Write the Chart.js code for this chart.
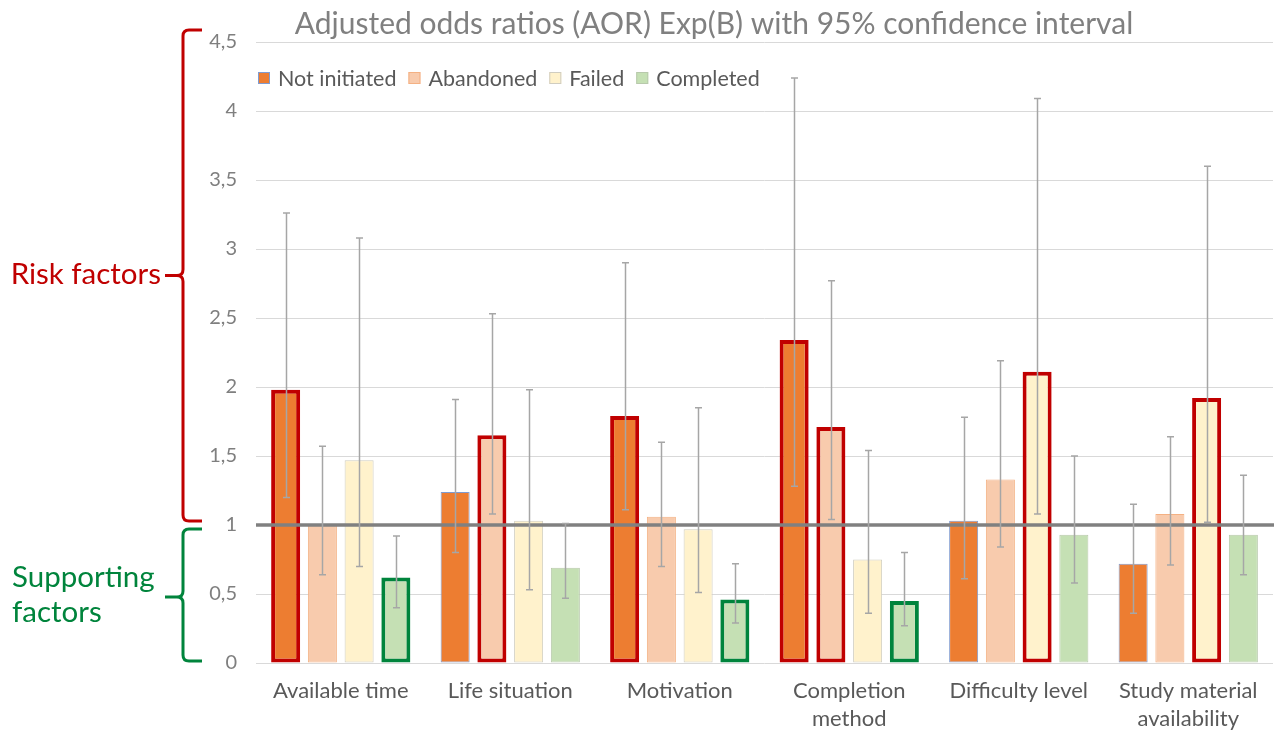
<!DOCTYPE html>
<html><head><meta charset="utf-8">
<script src="https://cdn.jsdelivr.net/npm/chart.js@4.4.0/dist/chart.umd.min.js"></script>
<style>html,body{margin:0;padding:0;background:#fff;overflow:hidden}#wrap{width:1274px;height:731px;position:relative}</style>
</head><body><div id="wrap"><canvas id="c"></canvas></div>
<script>
// ---- data ----
const categories = ['Available time', 'Life situation', 'Motivation', ['Completion', 'method'], 'Difficulty level', ['Study material', 'availability']];
const seriesNames = ['Not initiated', 'Abandoned', 'Failed', 'Completed'];
const yTicks = [0, 0.5, 1, 1.5, 2, 2.5, 3, 3.5, 4, 4.5];

const notInitiated     = [1.98, 1.24, 1.79, 2.34, 1.03, 0.72];
const notInitiatedLow  = [1.20, 0.80, 1.11, 1.28, 0.61, 0.36];
const notInitiatedHigh = [3.26, 1.91, 2.90, 4.24, 1.78, 1.15];

const abandoned     = [1.00, 1.65, 1.06, 1.71, 1.33, 1.08];
const abandonedLow  = [0.64, 1.08, 0.70, 1.04, 0.84, 0.71];
const abandonedHigh = [1.57, 2.53, 1.60, 2.77, 2.19, 1.64];

const failed     = [1.47, 1.03, 0.97, 0.75, 2.11, 1.92];
const failedLow  = [0.70, 0.53, 0.51, 0.36, 1.08, 1.02];
const failedHigh = [3.08, 1.98, 1.85, 1.54, 4.09, 3.60];

const completed     = [0.62, 0.69, 0.46, 0.45, 0.93, 0.93];
const completedLow  = [0.40, 0.47, 0.29, 0.27, 0.58, 0.64];
const completedHigh = [0.92, 1.01, 0.72, 0.80, 1.50, 1.36];

// significance: 'risk' / 'support' / ''
const notInitiatedSig = ['risk', '', 'risk', 'risk', '', ''];
const abandonedSig    = ['', 'risk', '', 'risk', '', ''];
const failedSig       = ['', '', '', '', 'risk', 'risk'];
const completedSig    = ['support', '', 'support', 'support', '', ''];

const referenceValue = 1;
const titleText = 'Adjusted odds ratios (AOR) Exp(B) with 95% confidence interval';

// ---- styling ----
const FONT = 'Lato, "Open Sans", sans-serif';
const RED = '#C00000';
const GREEN = '#00843C';

function makeDataset(label, values, low, high, sig, fill, thin) {
  return {
    label, data: values, ciLow: low, ciHigh: high, thinBorder: thin,
    backgroundColor: fill,
    borderColor: c => {
      const s = c.dataIndex === undefined ? '' : sig[c.dataIndex];
      return s === 'risk' ? RED : s === 'support' ? GREEN : thin;
    },
    borderWidth: c => {
      const s = c.dataIndex === undefined ? '' : sig[c.dataIndex];
      return s ? 4 : 1;
    },
    borderSkipped: false,
    categoryPercentage: 0.867,
    barPercentage: 0.79
  };
}

function brace(ctx, x, xTip, xEnd, yTop, yMid, yBot, r) {
  ctx.beginPath();
  ctx.moveTo(xEnd, yTop);
  ctx.lineTo(x + r, yTop);
  ctx.quadraticCurveTo(x, yTop, x, yTop + r);
  ctx.lineTo(x, yMid - r);
  ctx.quadraticCurveTo(x, yMid, x - r, yMid);
  ctx.lineTo(xTip, yMid);
  ctx.moveTo(x - r, yMid);
  ctx.quadraticCurveTo(x, yMid, x, yMid + r);
  ctx.lineTo(x, yBot - r);
  ctx.quadraticCurveTo(x, yBot, x + r, yBot);
  ctx.lineTo(xEnd, yBot);
  ctx.stroke();
}

const overlay = {
  id: 'overlay',
  beforeDatasetsDraw(chart) {
    // legend inside the plot area, top-left
    const { ctx, chartArea: a } = chart;
    ctx.save();
    ctx.font = '21.5px ' + FONT;
    ctx.textBaseline = 'middle';
    ctx.textAlign = 'left';
    let x = a.left + 2;
    const yc = a.top + 36;
    chart.data.datasets.forEach(ds => {
      ctx.fillStyle = ds.backgroundColor;
      ctx.fillRect(x, yc - 6, 12, 12);
      ctx.strokeStyle = ds.thinBorder;
      ctx.lineWidth = 1;
      ctx.strokeRect(x + 0.5, yc - 5.5, 11, 11);
      ctx.fillStyle = '#595959';
      ctx.fillText(ds.label, x + 20, yc + 1);
      x += 20 + ctx.measureText(ds.label).width + 12;
    });
    ctx.restore();
  },
  afterDatasetsDraw(chart) {
    const { ctx, chartArea: a, scales: { y } } = chart;
    ctx.save();
    const y1 = y.getPixelForValue(referenceValue);
    ctx.strokeStyle = '#808080';
    ctx.lineWidth = 3.5;
    ctx.beginPath(); ctx.moveTo(a.left, y1); ctx.lineTo(chart.width, y1); ctx.stroke();
    ctx.strokeStyle = '#A6A6A6';
    ctx.lineWidth = 1.5;
    chart.data.datasets.forEach((ds, i) => {
      const meta = chart.getDatasetMeta(i);
      meta.data.forEach((bar, j) => {
        const x = Math.round(bar.x) + 0.5;
        const yl = y.getPixelForValue(ds.ciLow[j]);
        const yh = y.getPixelForValue(ds.ciHigh[j]);
        ctx.beginPath();
        ctx.moveTo(x, yl); ctx.lineTo(x, yh);
        ctx.moveTo(x - 3.5, yl); ctx.lineTo(x + 3.5, yl);
        ctx.moveTo(x - 3.5, yh); ctx.lineTo(x + 3.5, yh);
        ctx.stroke();
      });
    });
    ctx.restore();
  },
  afterDraw(chart) {
    const { ctx, scales: { y } } = chart;
    ctx.save();
    ctx.lineWidth = 3;
    ctx.lineJoin = 'round';
    const yTop = y.getPixelForValue(4.5) - 12;
    const yOne = y.getPixelForValue(1);
    const yZero = y.getPixelForValue(0);
    ctx.strokeStyle = RED;
    brace(ctx, 183, 165, 202, yTop, (yTop + yOne - 4) / 2, yOne - 4, 6);
    ctx.strokeStyle = GREEN;
    brace(ctx, 183, 165, 202, yOne + 4, (yOne + 4 + yZero - 2) / 2 + 2, yZero - 2, 6);
    ctx.font = '29.5px ' + FONT;
    ctx.textBaseline = 'middle';
    ctx.fillStyle = RED;
    ctx.textAlign = 'right';
    ctx.fillText('Risk factors', 161, (yTop + yOne - 4) / 2 - 1);
    ctx.fillStyle = GREEN;
    ctx.textAlign = 'left';
    ctx.fillText('Supporting', 12, 577);
    ctx.fillText('factors', 12, 612);
    ctx.restore();
  }
};

new Chart(document.getElementById('c'), {
  type: 'bar',
  data: {
    labels: categories,
    datasets: [
      makeDataset(seriesNames[0], notInitiated, notInitiatedLow, notInitiatedHigh, notInitiatedSig, '#ED7D31', '#7F9BD0'),
      makeDataset(seriesNames[1], abandoned, abandonedLow, abandonedHigh, abandonedSig, '#F8CBAD', '#F4B183'),
      makeDataset(seriesNames[2], failed, failedLow, failedHigh, failedSig, '#FFF2CC', '#D0CDC0'),
      makeDataset(seriesNames[3], completed, completedLow, completedHigh, completedSig, '#C5E0B4', '#B8C9AC')
    ]
  },
  options: {
    responsive: true, maintainAspectRatio: false, animation: false,
    layout: { padding: { left: 155, right: 1, top: 0, bottom: 0 } },
    plugins: {
      title: { display: true, text: titleText, color: '#808080', font: { family: FONT, size: 30, weight: 'normal' }, padding: { top: 6, bottom: 0 } },
      legend: { display: false },
      tooltip: { enabled: false }
    },
    scales: {
      x: {
        grid: { display: false }, border: { display: false },
        ticks: { color: '#595959', font: { family: FONT, size: 22, lineHeight: 1.27 }, padding: 6, maxRotation: 0, autoSkip: false },
        afterFit: s => { s.height = 68; }
      },
      y: {
        min: 0, max: 4.5,
        afterBuildTicks: s => { s.ticks = yTicks.map(v => ({ value: v })); },
        ticks: { color: '#7F7F7F', font: { family: FONT, size: 20 }, padding: 19, callback: v => String(v).replace('.', ',') },
        grid: { color: '#D9D9D9', drawTicks: false },
        border: { display: false },
        afterFit: s => { s.width = 101; }
      }
    }
  },
  plugins: [overlay]
});
</script>
</body></html>
